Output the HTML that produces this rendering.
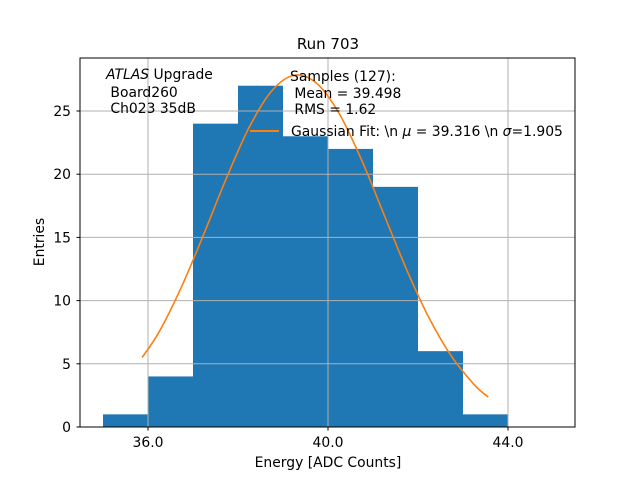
<!DOCTYPE html>
<html><head><meta charset="utf-8"><style>
body{margin:0;background:#fff}
svg text{font-family:"DejaVu Sans","Liberation Sans",sans-serif;fill:#000}
</style></head><body>
<svg id="c" width="640" height="480" xmlns="http://www.w3.org/2000/svg">
<rect width="640" height="480" fill="#fff"/>
<g id="bars"></g>
<g id="grid"></g>
<g id="curve"></g>
<rect x="80" y="58" width="495" height="369" fill="none" stroke="#000" stroke-width="1"/>
<g id="ticks"></g>
<text x="328" y="49" font-size="15" text-anchor="middle">Run 703</text>
<text x="328" y="467" font-size="13.9" text-anchor="middle">Energy [ADC Counts]</text>
<text x="44" y="242" font-size="13.9" text-anchor="middle" transform="rotate(-90 44 242)">Entries</text>
<g font-size="13.9">
<text x="106" y="79"><tspan font-style="italic">ATLAS</tspan> Upgrade</text>
<text x="106" y="97">&#160;Board260</text>
<text x="106" y="113">&#160;Ch023 35dB</text>
</g>
<g font-size="13.9">
<text x="290" y="81">Samples (127):</text>
<text x="290" y="98">&#160;Mean = 39.498</text>
<text x="290" y="114">&#160;RMS = 1.62</text>
<line x1="250" y1="131" x2="279" y2="131" stroke="#ff7f0e" stroke-width="2"/>
<text x="291" y="136">Gaussian Fit: \n <tspan font-style="italic">μ</tspan> = 39.316 \n <tspan font-style="italic">σ</tspan>=1.905</text>
</g>
</svg>
<script>
const binEdges=[35,36,37,38,39,40,41,42,43,44,45];
const counts=[1,4,24,27,23,22,19,6,1,0];
const fitX=[35.87,36.25,36.75,37.25,37.75,38.25,38.75,39.25,39.75,40.25,40.75,41.25,41.75,42.25,42.75,43.25,43.56];
const fitY=[5.5,7.54,11.13,15.35,19.75,23.72,26.59,27.83,27.18,24.79,21.10,16.76,12.43,8.60,5.56,3.35,2.37];
const xTicks=[36,40,44];
const yTicks=[0,5,10,15,20,25];
const NS='http://www.w3.org/2000/svg';
const X=v=>148+(v-36)*45;
const Y=v=>427-v*12.64;
function mk(t,a,p){const e=document.createElementNS(NS,t);for(const k in a)e.setAttribute(k,a[k]);p.appendChild(e);return e;}
const bars=document.getElementById('bars');
counts.forEach((c,i)=>{if(c<=0)return;
const r=mk('rect',{x:X(binEdges[i]),y:Y(c),width:X(binEdges[i+1])-X(binEdges[i]),height:Y(0)-Y(c),fill:'#1f77b4'},bars);

});
const grid=document.getElementById('grid'),ticks=document.getElementById('ticks');
xTicks.forEach(v=>{const x=X(v);
mk('line',{x1:x,x2:x,y1:58,y2:427,stroke:'#b0b0b0','stroke-width':1},grid);
mk('line',{x1:x,x2:x,y1:427,y2:430.5,stroke:'#000'},ticks);
const t=mk('text',{x:x,y:447,'font-size':13.9,'text-anchor':'middle'},ticks);t.textContent=v.toFixed(1);

});
yTicks.forEach(v=>{const y=Y(v);
mk('line',{x1:80,x2:575,y1:y,y2:y,stroke:'#b0b0b0','stroke-width':1},grid);
mk('line',{x1:76.5,x2:80,y1:y,y2:y,stroke:'#000'},ticks);
const t=mk('text',{x:71,y:y+5,'font-size':13.9,'text-anchor':'end'},ticks);t.textContent=v;

});
const pts=fitX.map((v,i)=>[X(v),Y(fitY[i])]);
let d='M'+pts[0][0]+','+pts[0][1];
for(let i=0;i<pts.length-1;i++){const p0=pts[Math.max(i-1,0)],p1=pts[i],p2=pts[i+1],p3=pts[Math.min(i+2,pts.length-1)];
d+=' C'+(p1[0]+(p2[0]-p0[0])/6)+','+(p1[1]+(p2[1]-p0[1])/6)+' '+(p2[0]-(p3[0]-p1[0])/6)+','+(p2[1]-(p3[1]-p1[1])/6)+' '+p2[0]+','+p2[1];}
const path=mk('path',{d:d,fill:'none',stroke:'#ff7f0e','stroke-width':1.6},document.getElementById('curve'));


</script>
</body></html>
